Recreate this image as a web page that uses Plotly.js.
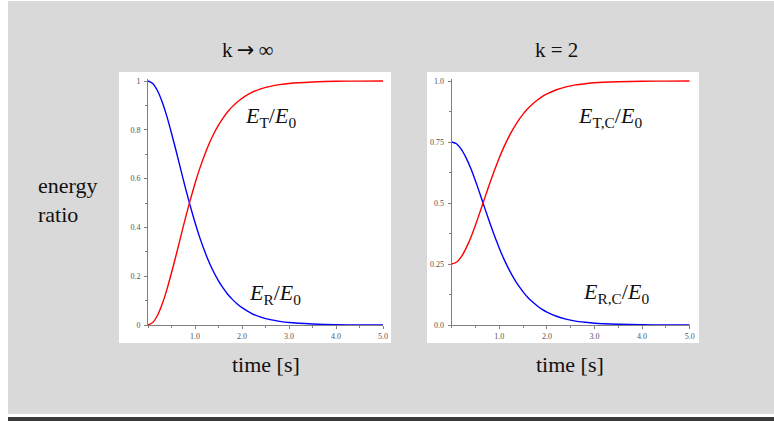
<!DOCTYPE html>
<html>
<head>
<meta charset="utf-8">
<script src="https://cdn.plot.ly/plotly-3.0.1.min.js"></script>
<style>html,body{margin:0;padding:0;background:#fff;}#chart{width:774px;height:421px;}</style>
</head>
<body>
<div id="chart"></div>
<script>
// time samples (s)
const time = [0,0.1,0.2,0.3,0.4,0.5,0.6,0.7,0.8,0.9,1.0,1.1,1.2,1.3,1.4,1.5,1.6,1.7,1.8,1.9,2.0,2.2,2.4,2.6,2.8,3.0,3.5,4.0,4.5,5.0];
// k -> infinity
const eRLeft = [1.000,0.990,0.961,0.915,0.856,0.786,0.712,0.635,0.559,0.487,0.420,0.359,0.305,0.257,0.216,0.181,0.151,0.125,0.104,0.086,0.071,0.048,0.032,0.022,0.015,0.010,0.004,0.001,0.0005,0.0002];
const eTLeft = [0.000,0.010,0.039,0.085,0.144,0.214,0.288,0.365,0.441,0.513,0.580,0.641,0.695,0.743,0.784,0.819,0.849,0.875,0.896,0.914,0.929,0.952,0.968,0.978,0.985,0.990,0.996,0.999,0.9995,0.9998];
// k = 2
const eRRight = [0.750,0.743,0.721,0.686,0.642,0.590,0.534,0.476,0.419,0.365,0.315,0.269,0.229,0.193,0.162,0.136,0.113,0.094,0.078,0.064,0.053,0.036,0.024,0.016,0.011,0.007,0.003,0.001,0.0004,0.0001];
const eTRight = [0.250,0.257,0.279,0.314,0.358,0.410,0.466,0.524,0.581,0.635,0.685,0.731,0.771,0.807,0.838,0.864,0.887,0.906,0.922,0.936,0.947,0.964,0.976,0.984,0.989,0.993,0.997,0.999,0.9996,0.9999];

const xTickVals = [1,2,3,4,5];
const xTickText = ['1.0','2.0','3.0','4.0','5.0'];
const yLeftTickVals = [0,0.2,0.4,0.6,0.8,1];
const yLeftTickText = ['0','0.2','0.4','0.6','0.8','1'];
const yRightTickVals = [0,0.25,0.5,0.75,1];
const yRightTickText = ['0.0','0.25','0.5','0.75','1.0'];

const W = 774, H = 421;
const px = v => v / W;
const py = v => 1 - v / H;
const SERIF = '"Liberation Serif", "Times New Roman", Times, "DejaVu Serif", serif';

const lineStyle = (c) => ({color: c, width: 1.4, shape: 'spline', smoothing: 0.6});

const traces = [
  {x: time, y: eRLeft, xaxis: 'x', yaxis: 'y', mode: 'lines', line: lineStyle('#0000ff'), hoverinfo: 'skip'},
  {x: time, y: eTLeft, xaxis: 'x', yaxis: 'y', mode: 'lines', line: lineStyle('#ff0000'), hoverinfo: 'skip'},
  {x: time, y: eRRight, xaxis: 'x2', yaxis: 'y2', mode: 'lines', line: lineStyle('#0000ff'), hoverinfo: 'skip'},
  {x: time, y: eTRight, xaxis: 'x2', yaxis: 'y2', mode: 'lines', line: lineStyle('#ff0000'), hoverinfo: 'skip'}
];

const tickFont = {family: SERIF, size: 8, color: '#555'};
const axisCommon = {
  showline: true, linecolor: '#808080', linewidth: 1, showgrid: false, zeroline: false,
  ticks: 'outside', ticklen: 3, tickcolor: '#808080', tickwidth: 1, tickfont: tickFont,
  fixedrange: true
};
const bigFont = (s) => ({family: SERIF, size: s, color: '#111'});

const yDomain = [py(325), py(78.56)];
const layout = {
  width: W, height: H,
  margin: {l: 0, r: 0, t: 0, b: 0, pad: 0},
  paper_bgcolor: '#ffffff', plot_bgcolor: '#ffffff',
  showlegend: false,
  font: {family: SERIF},
  xaxis: Object.assign({}, axisCommon, {domain: [px(148), px(383)], range: [0, 5], anchor: 'y',
    tickmode: 'array', tickvals: xTickVals, ticktext: xTickText,
    minor: {dtick: 0.5, tick0: 0, ticks: 'outside', ticklen: 2, tickcolor: '#808080'}}),
  yaxis: Object.assign({}, axisCommon, {domain: yDomain, range: [0, 1.01], anchor: 'x',
    tickmode: 'array', tickvals: yLeftTickVals, ticktext: yLeftTickText, ticklabelstandoff: 2,
    minor: {dtick: 0.1, tick0: 0, ticks: 'outside', ticklen: 2, tickcolor: '#808080'}}),
  xaxis2: Object.assign({}, axisCommon, {domain: [px(451.7), px(689.7)], range: [0, 5], anchor: 'y2',
    tickmode: 'array', tickvals: xTickVals, ticktext: xTickText,
    minor: {dtick: 0.5, tick0: 0, ticks: 'outside', ticklen: 2, tickcolor: '#808080'}}),
  yaxis2: Object.assign({}, axisCommon, {domain: yDomain, range: [0, 1.01], anchor: 'x2',
    tickmode: 'array', tickvals: yRightTickVals, ticktext: yRightTickText, ticklabelstandoff: 2,
    minor: {dtick: 0.125, tick0: 0, ticks: 'outside', ticklen: 2, tickcolor: '#808080'}}),
  shapes: [
    {type: 'rect', xref: 'paper', yref: 'paper', x0: px(8), x1: 1, y0: py(414), y1: py(1), fillcolor: '#d9d9d9', line: {width: 0}, layer: 'below'},
    {type: 'rect', xref: 'paper', yref: 'paper', x0: px(8), x1: 1, y0: 0, y1: py(417), fillcolor: '#3a3a3a', line: {width: 0}, layer: 'below'},
    {type: 'rect', xref: 'paper', yref: 'paper', x0: px(119), x1: px(391), y0: py(343), y1: py(72), fillcolor: '#ffffff', line: {width: 0}, layer: 'below'},
    {type: 'rect', xref: 'paper', yref: 'paper', x0: px(427), x1: px(699), y0: py(343), y1: py(72), fillcolor: '#ffffff', line: {width: 0}, layer: 'below'}
  ],
  annotations: [
    {text: 'k<span style="font-family:\'DejaVu Sans\'">\u2009→\u2009</span>∞', xref: 'paper', yref: 'paper', x: px(248), y: py(50), xanchor: 'center', yanchor: 'middle', showarrow: false, font: bigFont(21)},
    {text: 'k = 2', xref: 'paper', yref: 'paper', x: px(556), y: py(50), xanchor: 'center', yanchor: 'middle', showarrow: false, font: bigFont(21)},
    {text: 'time [s]', xref: 'paper', yref: 'paper', x: px(266), y: py(364), xanchor: 'center', yanchor: 'middle', showarrow: false, font: bigFont(22)},
    {text: 'time [s]', xref: 'paper', yref: 'paper', x: px(570), y: py(364), xanchor: 'center', yanchor: 'middle', showarrow: false, font: bigFont(22)},
    {text: 'energy<br>ratio', xref: 'paper', yref: 'paper', x: px(36), y: py(200), xanchor: 'left', yanchor: 'middle', align: 'left', showarrow: false, font: bigFont(22)},
    {text: '<i>E</i><sub>T</sub>/<i>E</i><sub>0</sub>', xref: 'x', yref: 'y', x: 2.6, y: 0.852, xanchor: 'center', yanchor: 'middle', showarrow: false, font: bigFont(22)},
    {text: '<i>E</i><sub>R</sub>/<i>E</i><sub>0</sub>', xref: 'x', yref: 'y', x: 2.7, y: 0.127, xanchor: 'center', yanchor: 'middle', showarrow: false, font: bigFont(22)},
    {text: '<i>E</i><sub>T,C</sub>/<i>E</i><sub>0</sub>', xref: 'x2', yref: 'y2', x: 3.33, y: 0.852, xanchor: 'center', yanchor: 'middle', showarrow: false, font: bigFont(22)},
    {text: '<i>E</i><sub>R,C</sub>/<i>E</i><sub>0</sub>', xref: 'x2', yref: 'y2', x: 3.45, y: 0.131, xanchor: 'center', yanchor: 'middle', showarrow: false, font: bigFont(22)}
  ]
};

Plotly.newPlot('chart', traces, layout, {staticPlot: true, displayModeBar: false});
</script>
</body>
</html>
